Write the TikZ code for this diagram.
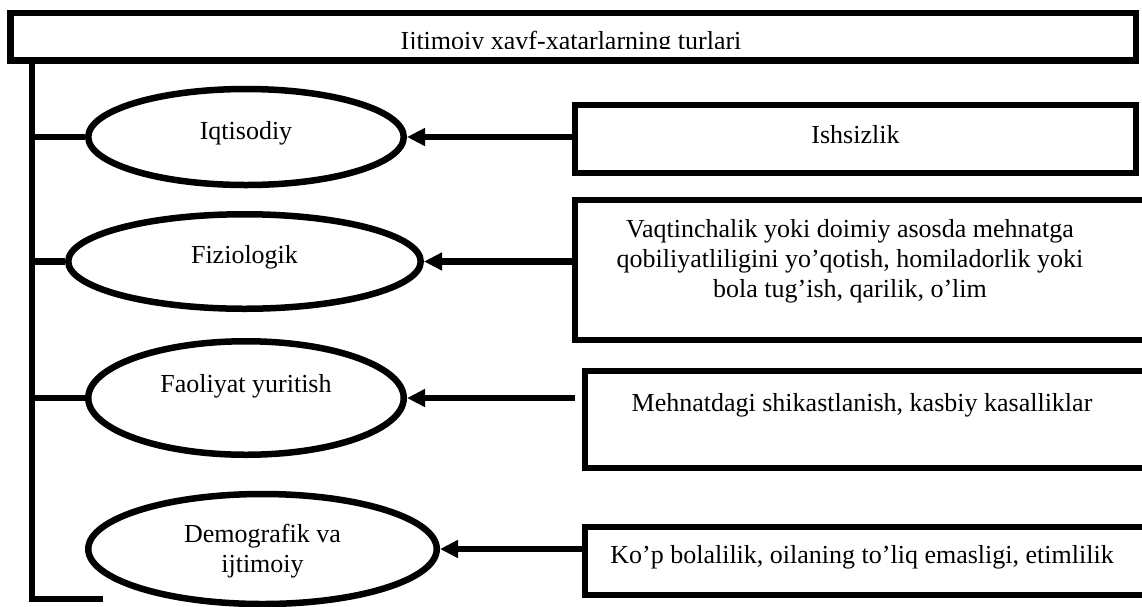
\documentclass[tikz,border=0pt]{standalone}
\usepackage{fontspec}
\setmainfont{Liberation Serif}
\usetikzlibrary{shapes.geometric,arrows.meta}
\newcommand{\rpad}{\hspace*{50pt}}

\begin{document}
\begin{tikzpicture}[x=1pt,y=-1pt,font=\fontsize{26pt}{30pt}\selectfont,
	box/.style={draw, rectangle, line width=6.5pt, inner sep=0pt, text height=18pt},
	kind/.style={draw, ellipse, line width=6.5pt, inner sep=0pt, text height=18pt},
	link/.style={line width=6.5pt, line join=miter},
	feed/.style={line width=6.5pt, -{Triangle[length=18pt,width=17pt]}}]
	\clip (0,0) rectangle (1142,606);
	\node [box, minimum width=1125.5pt, minimum height=47.5pt] (title) at (573.25,36.75) {};
	\begin{scope}
		\clip (20,20) rectangle (1130,48);
		\node [anchor=base, inner sep=0pt] (titletext) at (571,49) {Ijtimoiy xavf-xatarlarning turlari};
	\end{scope}
	\node [kind, minimum width=315.5pt, minimum height=96pt, text depth=14pt] (iqt) at (246,137) {Iqtisodiy};
	\node [kind, minimum width=352.5pt, minimum height=94.5pt, text depth=15pt] (fiz) at (244.5,261.5) {Fiziologik};
	\node [kind, minimum width=315.5pt, minimum height=113.5pt, text depth=30pt] (fao) at (246,398) {Faoliyat yuritish};
	\node [kind, minimum width=348.5pt, minimum height=110pt, text height=48pt, text depth=2pt, align=center] (dem) at (262.5,549) {Demografik va\\ijtimoiy};
	\node [box, minimum width=561pt, minimum height=68pt, text depth=10pt] (ishs) at (855.5,139) {Ishsizlik};
	\node [box, minimum width=600pt, minimum height=140pt, text depth=23pt] (vaqt) at (875,270)
		{\begin{tabular}{@{}c@{}}Vaqtinchalik yoki doimiy asosda mehnatga\\qobiliyatliligini yo’qotish, homiladorlik yoki\\bola tug’ish, qarilik, o’lim\end{tabular}\rpad};
	\node [box, minimum width=604pt, minimum height=97pt, text depth=35pt] (mehn) at (887,419.5) {Mehnatdagi shikastlanish, kasbiy kasalliklar\rpad};
	\node [box, minimum width=604pt, minimum height=68pt, text depth=14pt] (kop) at (887,561) {Ko’p bolalilik, oilaning to’liq emasligi, etimlilik\rpad};
	\coordinate (spinetop) at (32,60.5);
	\coordinate (spinebot) at (32,599);
	\coordinate (stubend) at (103,599);
	\draw [link] (spinetop) -- (spinebot) -- (stubend);
	\foreach \k in {iqt,fiz,fao}
		\draw [link] (spinetop |- \k.west) -- (\k.west);
	\draw [feed] (ishs.west |- iqt.east) -- (iqt.east);
	\draw [feed] (vaqt.west |- fiz.east) -- (fiz.east);
	\draw [feed, shorten <=6.75pt] (mehn.west |- fao.east) -- (fao.east);
	\draw [feed] (kop.west |- dem.east) -- (dem.east);
\end{tikzpicture}
\end{document}
